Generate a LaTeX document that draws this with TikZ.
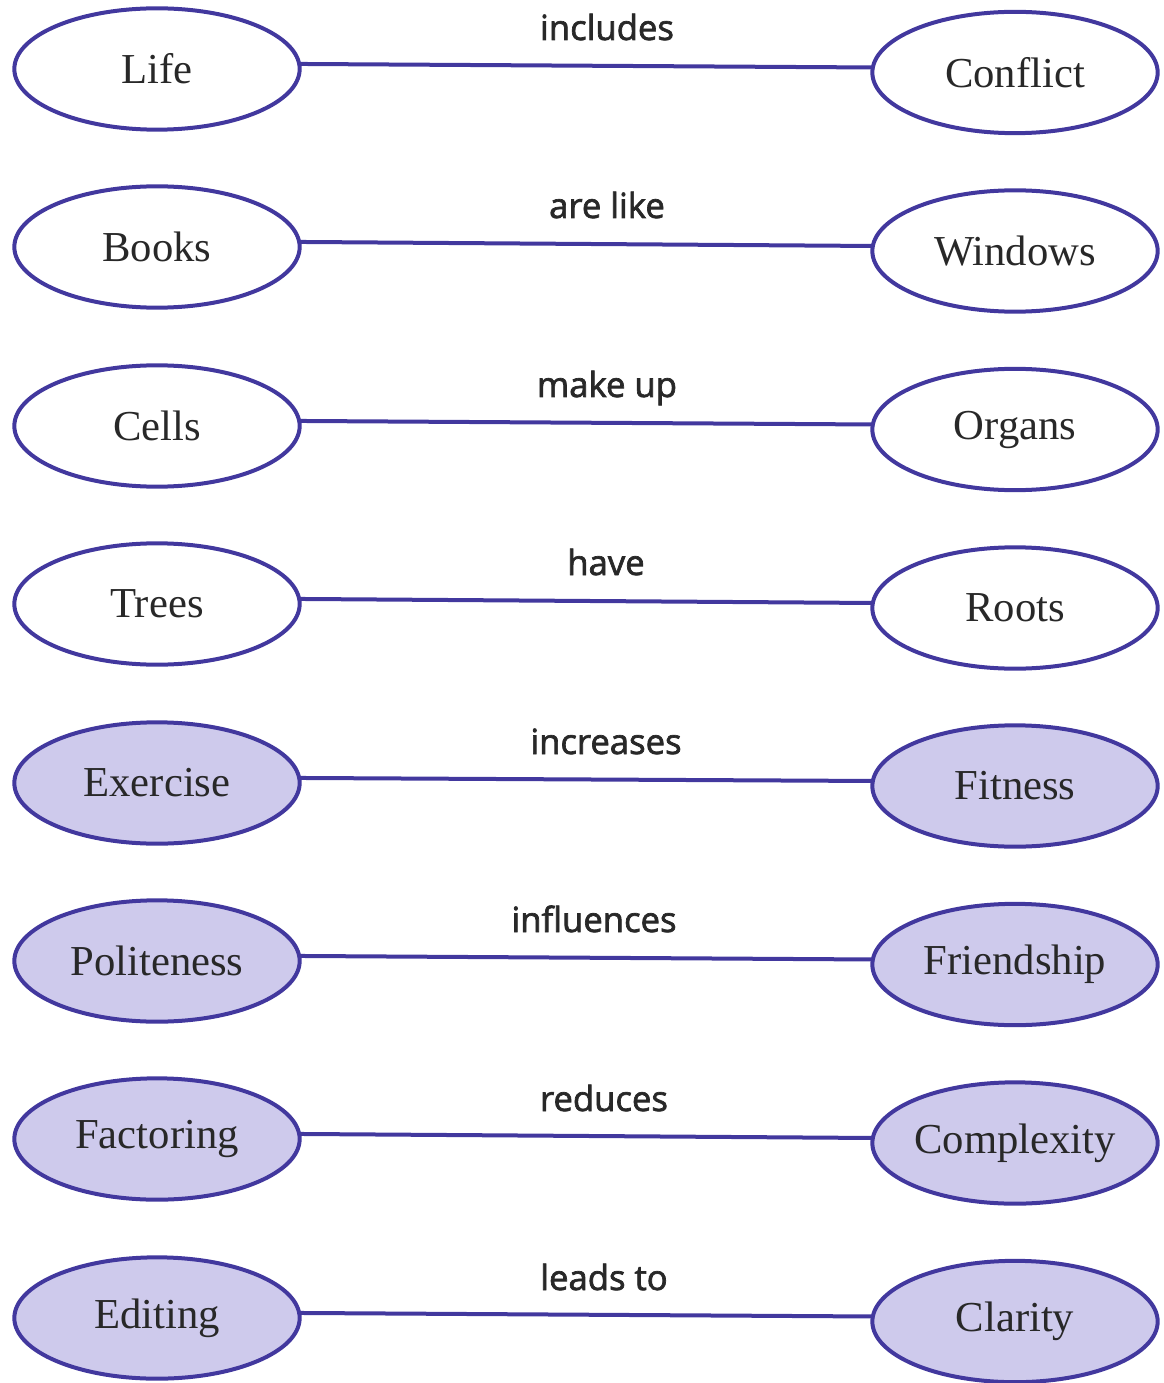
\documentclass[tikz,border=0pt]{standalone}
\usepackage{fontspec}
\setmainfont{Liberation Serif}
\newfontfamily\linkfont{Open Sans}[FakeBold=2]
\usetikzlibrary{shapes.geometric}

\definecolor{mapline}{RGB}{66,56,158}
\definecolor{mapfill}{RGB}{206,202,236}
\definecolor{maptext}{RGB}{40,40,40}

\tikzset{every picture/.style={line width=0.75pt}}
\tikzset{
  concept/.style={ellipse, draw=mapline, line width=3pt, minimum width=214pt, minimum height=91pt, inner sep=0pt, text=maptext, font=\fontsize{32}{38}\selectfont},
  filled concept/.style={concept, fill=mapfill},
  link/.style={draw=mapline, line width=3pt},
  linkword/.style={anchor=base, inner sep=0pt, text=maptext, font=\linkfont\fontsize{26}{30}\selectfont}
}

\begin{document}
\begin{tikzpicture}[x=0.75pt,y=0.75pt,yscale=-1,xscale=1]
\useasboundingbox (0,0) rectangle (1163,1383);

%Shape: Ellipse, left column
\draw (157,69) node [concept] (life) {Life};
\draw (157,247) node [concept] (books) {Books};
\draw (157,426) node [concept] (cells) {Cells};
\draw (157,604) node [concept] (trees) {Trees};
\draw (157,783) node [filled concept] (exercise) {Exercise};
\draw (157,961) node [filled concept] (politeness) {Politeness};
\draw (157,1139) node [filled concept] (factoring) {Factoring};
\draw (157,1318) node [filled concept] (editing) {Editing};
%Shape: Ellipse, right column
\draw (1015,72.5) node [concept] (conflict) {Conflict};
\draw (1015,251) node [concept] (windows) {Windows};
\draw (1015,429.5) node [concept] (organs) {Organs};
\draw (1015,608) node [concept] (roots) {Roots};
\draw (1015,786) node [filled concept] (fitness) {Fitness};
\draw (1015,964.5) node [filled concept] (friendship) {Friendship};
\draw (1015,1143) node [filled concept] (complexity) {Complexity};
\draw (1015,1321.5) node [filled concept] (clarity) {Clarity};

%Straight Lines
\draw [link] (life.2) -- (conflict.178) ;
\draw [link] (books.2) -- (windows.178) ;
\draw [link] (cells.2) -- (organs.178) ;
\draw [link] (trees.2) -- (roots.178) ;
\draw [link] (exercise.2) -- (fitness.178) ;
\draw [link] (politeness.2) -- (friendship.178) ;
\draw [link] (factoring.2) -- (complexity.178) ;
\draw [link] (editing.2) -- (clarity.178) ;

% Text Node
\draw (607,40) node [linkword] (includes) {includes};
% Text Node
\draw (607,218) node [linkword] (arelike) {are like};
% Text Node
\draw (607,397) node [linkword] (makeup) {make up};
% Text Node
\draw (606,575) node [linkword] (have) {have};
% Text Node
\draw (606,754) node [linkword] (increases) {increases};
% Text Node
\draw (594,932) node [linkword] (influences) {influences};
% Text Node
\draw (604,1111) node [linkword] (reduces) {reduces};
% Text Node
\draw (604,1290) node [linkword] (leadsto) {leads to};

\end{tikzpicture}
\end{document}
